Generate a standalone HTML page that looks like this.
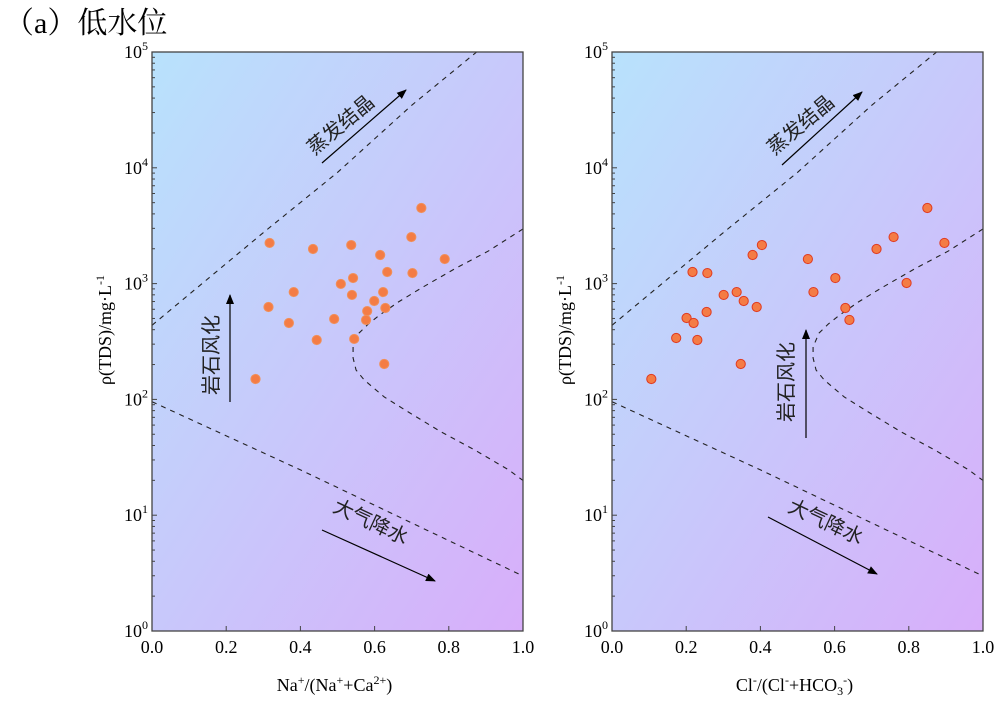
<!DOCTYPE html>
<html><head><meta charset="utf-8"><style>
body{margin:0;background:#fff;width:998px;height:700px;overflow:hidden;font-family:"Liberation Serif","Noto Serif CJK SC",serif}
</style></head><body>
<svg id="chart" width="998" height="700" xmlns="http://www.w3.org/2000/svg">
<defs>
<linearGradient id="bg" x1="0" y1="0" x2="1" y2="1"><stop offset="0" stop-color="#b8e2fc"/><stop offset="1" stop-color="#d8aefa"/></linearGradient>
<marker id="ah" markerWidth="10" markerHeight="8" refX="9" refY="4" orient="auto" markerUnits="userSpaceOnUse"><path d="M0,0 L10,4 L0,8 Z" fill="#000"/></marker>
</defs>
<text x="4" y="33" font-size="30" font-family="Liberation Serif,Noto Serif CJK SC,serif">（a）低水位</text>
</svg>
<script>
const leftX=[0.317,0.434,0.537,0.726,0.699,0.789,0.615,0.634,0.702,0.542,0.509,0.382,0.539,0.623,0.314,0.599,0.580,0.629,0.491,0.577,0.369,0.444,0.545,0.626,0.279];
const leftLogY=[3.351,3.299,3.333,3.653,3.402,3.212,3.247,3.100,3.091,3.048,2.997,2.927,2.902,2.927,2.798,2.850,2.763,2.789,2.694,2.686,2.660,2.513,2.522,2.306,2.176];
const rightX=[0.106,0.173,0.230,0.201,0.220,0.255,0.217,0.257,0.301,0.336,0.355,0.390,0.347,0.379,0.404,0.528,0.543,0.602,0.629,0.640,0.713,0.759,0.850,0.896,0.794];
const rightLogY=[2.176,2.530,2.513,2.703,2.660,2.755,3.100,3.091,2.902,2.927,2.850,2.798,2.306,3.247,3.333,3.212,2.927,3.048,2.789,2.686,3.299,3.402,3.653,3.351,3.005];
const upperX=[0,0.3,0.5,0.7,0.875];
const upperY=[2.64,3.44,3.96,4.54,5.0];
const lowerX=[0,0.401,1.0];
const lowerY=[1.98,1.39,0.475];
const curveX=[1.0,0.907,0.815,0.726,0.664,0.610,0.583,0.558,0.542,0.542,0.550,0.572,0.626,0.691,0.780,0.870,0.962,1.0];
const curveY=[3.472,3.282,3.126,2.962,2.841,2.720,2.651,2.573,2.453,2.358,2.254,2.168,2.021,1.891,1.718,1.563,1.390,1.30];
const xTicks=["0.0","0.2","0.4","0.6","0.8","1.0"];
const yExps=["0","1","2","3","4","5"];

const svg=document.getElementById('chart');
const NS="http://www.w3.org/2000/svg";
function mk(tag,attrs,parent){const e=document.createElementNS(NS,tag);for(const k in attrs)e.setAttribute(k,attrs[k]);(parent||svg).appendChild(e);return e;}

function panel(ox,name,xs,ys,xlabelParts,labels,ptStroke){
  const W=371,top=52,bot=631,H=bot-top;
  const sx=v=>ox+v*W, sy=l=>bot-l*H/5;
  const g=mk('g',{});
  
  
  const bg=mk('rect',{x:ox,y:top,width:W,height:H,fill:'url(#bg)'},g);
  
  
  function line(X,Y,n){const p=mk('polyline',{points:X.map((v,i)=>sx(v)+','+sy(Y[i])).join(' '),fill:'none',stroke:'#222','stroke-width':1.1,'stroke-dasharray':'5,5'},g);
    
    }
  line(upperX,upperY,'evaporation-boundary');
  line(lowerX,lowerY,'precipitation-boundary');
  line(curveX,curveY,'rock-weathering-boundary');
  labels.forEach(L=>{
    const a=mk('line',{x1:L.a[0],y1:L.a[1],x2:L.a[2],y2:L.a[3],stroke:'#000','stroke-width':1.2,'marker-end':'url(#ah)'},g);
    
    
    const t=mk('text',{x:L.t[0],y:L.t[1],'font-size':20,'text-anchor':'middle',transform:`rotate(${L.r} ${L.t[0]} ${L.t[1]})`,'font-family':'Noto Sans CJK SC,sans-serif',fill:'#222'},g);
    t.textContent=L.txt;
    
    
  });
  xs.forEach((v,i)=>{const c=mk('circle',{cx:sx(v),cy:sy(ys[i]),r:4.6,fill:'#f47c45',stroke:ptStroke,'stroke-width':1},g);
    
    });
  const fr=mk('rect',{x:ox,y:top,width:W,height:H,fill:'none',stroke:'#444','stroke-width':1.3},g);
  
  
  yExps.forEach((e,i)=>{const y=sy(i);
    mk('line',{x1:ox,y1:y,x2:ox+5,y2:y,stroke:'#444'},g);
    if(i<5)for(let m=2;m<10;m++){const yy=sy(i+Math.log10(m));mk('line',{x1:ox,y1:yy,x2:ox+3,y2:yy,stroke:'#444'},g);}
    const t=mk('text',{x:ox-4,y:y+6,'font-size':18,'text-anchor':'end'},g);
    t.innerHTML='10<tspan dy="-8" font-size="12">'+e+'</tspan>';
    
    
  });
  xTicks.forEach((s,i)=>{const x=sx(i*0.2);
    mk('line',{x1:x,y1:bot,x2:x,y2:bot-5,stroke:'#444'},g);
    const t=mk('text',{x:x,y:bot+22,'font-size':18,'text-anchor':'middle'},g);
    t.textContent=s;
    
    
  });
  const xl=mk('text',{x:ox+W/2-3,y:691,'font-size':18,'text-anchor':'middle'},g);
  xl.innerHTML=xlabelParts;
  
  
  const yx=ox-41;
  const yl=mk('text',{x:yx,y:330,'font-size':18,'text-anchor':'middle',transform:`rotate(-90 ${yx} 330)`},g);
  yl.innerHTML='ρ(TDS)/mg·L<tspan dy="-7" font-size="12">-1</tspan>';
  
  
}
const sup=s=>'<tspan dy="-7" font-size="12">'+s+'</tspan><tspan dy="7">';
panel(152,'left-panel',leftX,leftLogY,'Na'+sup('+')+'/(Na</tspan>'+sup('+')+'+Ca</tspan>'+sup('2+')+')</tspan>',[
 {n:'evaporation',txt:'蒸发结晶',t:[345,130],r:-40,a:[322,163,406,90]},
 {n:'rock-weathering',txt:'岩石风化',t:[218,355],r:-90,a:[230,402,230,295]},
 {n:'precipitation',txt:'大气降水',t:[368,528],r:25,a:[322,530,435,581]}],'#f0905a');
panel(612,'right-panel',rightX,rightLogY,'Cl'+sup('-')+'/(Cl</tspan>'+sup('-')+'+HCO</tspan><tspan dy="4" font-size="12">3</tspan>'+'<tspan dy="-11" font-size="12">-</tspan><tspan dy="7">)</tspan>',[
 {n:'evaporation',txt:'蒸发结晶',t:[805,130],r:-40,a:[782,165,862,92]},
 {n:'rock-weathering',txt:'岩石风化',t:[793,382],r:-90,a:[806,438,806,330]},
 {n:'precipitation',txt:'大气降水',t:[823,528],r:25,a:[768,517,877,574]}],'#e03a20');
</script>
</body></html>
